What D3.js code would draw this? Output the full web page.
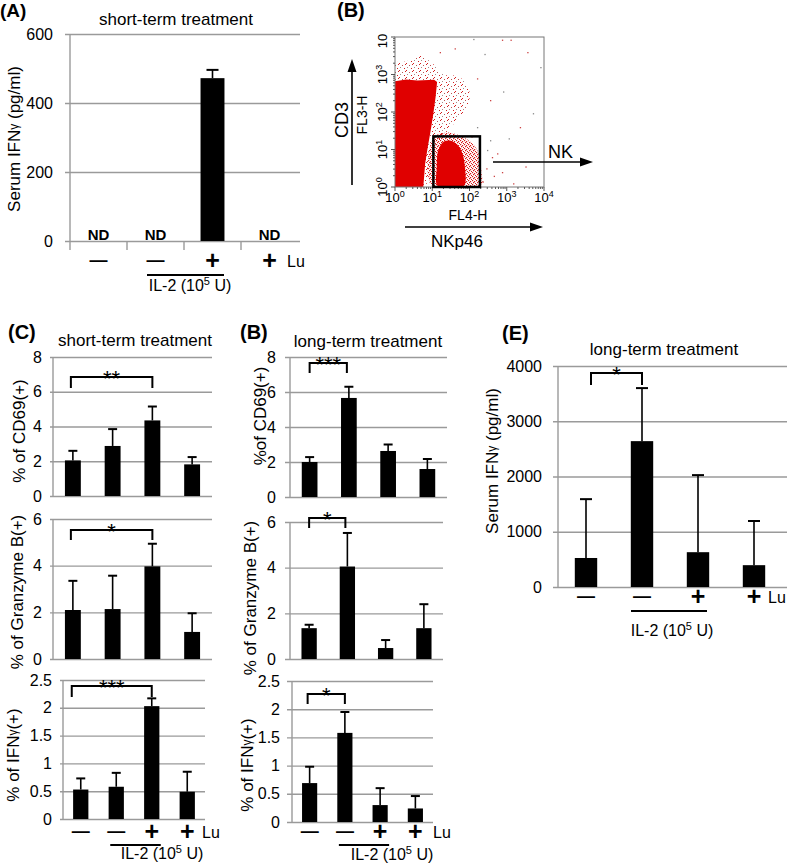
<!DOCTYPE html>
<html><head><meta charset="utf-8">
<script src="https://cdn.jsdelivr.net/npm/d3@7"></script>
<style>body{margin:0;background:#fff} svg{display:block}</style>
</head><body><svg id="c" width="787" height="865"></svg>
<script>
// ---------------- DATA ----------------
const groupSigns = ["—","—","+","+"];
const serumShortVals = [0,0,472,0];
const serumShortErr = [0,0,24,0];
const serumShortND = [true,true,false,true];
const serumShortTicks = [0,200,400,600];

const cd69ShortVals = [2.05,2.88,4.35,1.82];
const cd69ShortErr = [0.55,0.97,0.80,0.42];
const granzShortVals = [2.10,2.14,3.97,1.16];
const granzShortErr = [1.25,1.43,0.97,0.80];
const ifnShortVals = [0.53,0.58,2.03,0.49];
const ifnShortErr = [0.20,0.25,0.14,0.36];

const cd69LongVals = [2.00,5.66,2.63,1.60];
const cd69LongErr = [0.28,0.64,0.37,0.57];
const granzLongVals = [1.35,4.05,0.48,1.35];
const granzLongErr = [0.15,1.47,0.35,1.05];
const ifnLongVals = [0.69,1.58,0.30,0.24];
const ifnLongErr = [0.29,0.37,0.30,0.22];

const serumLongVals = [525,2640,630,395];
const serumLongErr = [1065,960,1395,800];

const cd69Ticks = [0,2,4,6,8];
const granzTicks = [0,2,4,6];
const ifnTicks = [0,0.5,1,1.5,2,2.5];
const serumLongTicks = [0,1000,2000,3000,4000];

// flow cytometry (log10 units: [FL4-H, FL3-H])
const flowDecades = [0,1,2,3,4];
const flowXTickLabels = ["0","1","2","3","4"];
const flowYTickLabels = ["0","1","2","3",""];
const denseMain = [[0,0],[0.76,0],[0.81,0.63],[0.88,1.07],[0.96,1.52],[1.03,1.96],[1.09,2.4],[1.13,2.8],[1.05,2.86],[0.6,2.84],[0.3,2.87],[0,2.82]];
const haloMain = [[0,2.7],[0,3.3],[0.3,3.35],[0.7,3.5],[1.0,3.3],[1.3,3.0],[1.7,2.95],[1.95,2.7],[2.0,2.35],[1.8,1.95],[1.5,1.6],[1.25,1.3],[1.05,0.9],[0.9,0.3],[0.8,0]];
const denseNK = [[1.15,0.02],[1.12,0.5],[1.17,1.0],[1.33,1.22],[1.58,1.2],[1.78,0.97],[1.88,0.5],[1.84,0.02]];
const haloNK = [[1.0,0],[1.02,1.3],[1.35,1.45],[1.85,1.32],[2.2,1.0],[2.32,0.4],[2.3,0]];
const flowDots = [[2.1,3.95],[2.87,3.93],[3.1,3.93],[3.9,3.2],[2.55,2.32],[3.35,1.6],[3.7,1.97],[2.87,0.4],[3.17,0.1],[2.47,0.99],[2.6,0.8],[2.74,0.9],[2.4,3.55],[1.6,3.7],[2.2,2.9],[2.9,2.55],[3.55,3.6],[2.45,0.5],[2.55,1.25],[3.5,0.55],[2.35,0.15],[2.2,1.6],[2.05,1.35],[1.2,3.6],[3.05,1.3],[2.65,0.3]];
const nkGate = {x0:1.03,x1:2.28,y0:0,y1:1.35};

// ---------------- DRAW ----------------
const FONT = '"Liberation Sans", Arial, Helvetica, sans-serif';
const GRID = "#9a9a9a";
const svg = d3.select("#c").attr("font-family", FONT);
svg.append("rect").attr("width",787).attr("height",865).attr("fill","#fff");

function addText(x,y,str,opt={}){
  return svg.append("text").attr("x",x).attr("y",y).text(str)
    .attr("font-size",opt.size||16).attr("text-anchor",opt.anchor||"start")
    .attr("font-weight",opt.weight||"normal").attr("fill","#000");
}
function il2Label(cx,y){
  const t = svg.append("text").attr("x",cx).attr("y",y).attr("text-anchor","middle").attr("font-size",16);
  t.append("tspan").text("IL-2 (10");
  t.append("tspan").attr("font-size",11).attr("dy",-6).text("5");
  t.append("tspan").attr("dy",6).text(" U)");
}
function rotLabel(cx,cy,parts,size){
  const t = svg.append("text").attr("transform",`translate(${cx},${cy}) rotate(-90)`)
    .attr("text-anchor","middle").attr("dominant-baseline","central").attr("font-size",size||17);
  parts.forEach(p=>{ const s=t.append("tspan").text(p[0]); if(p[1]) s.attr("font-size",p[1]); });
}
function drawSigns(cx,o){
  const sy=o.y;
  svg.append("g").selectAll("text").data(groupSigns.map((s,i)=>({s,i}))).join("text")
    .attr("x",d=>cx(d.i)).attr("text-anchor","middle")
    .attr("y",d=>d.s==="+"? sy+8 : sy+5)
    .attr("font-size",d=>d.s==="+"?25:18).attr("font-weight","bold").text(d=>d.s);
  addText(o.luX,sy+6,"Lu",{size:16});
  svg.append("line").attr("x1",cx(1)+o.l1).attr("x2",cx(2)+o.l2).attr("y1",o.lineY).attr("y2",o.lineY)
    .attr("stroke","#000").attr("stroke-width",2.2);
}

function barPanel(o){
  const n=o.vals.length;
  const x=d3.scaleBand().domain(d3.range(n)).range([o.left,o.right]).paddingInner(o.pad).paddingOuter(o.pad/2);
  const y=d3.scaleLinear().domain([0,o.max]).range([o.bottom,o.top]);
  const g=svg.append("g");
  const gr=(o.gridRight||o.right);
  const ax=d3.axisLeft(y).tickValues(o.ticks).tickSizeInner(-(gr-o.left)).tickSizeOuter(0)
    .tickPadding(o.gap).tickFormat(d=>String(d));
  const axg=g.append("g").attr("transform",`translate(${o.left},0)`).call(ax)
    .attr("font-size",16).attr("font-family",FONT);
  axg.select(".domain").remove();
  axg.selectAll(".tick line").attr("x1",-o.tickLen).attr("stroke",GRID).attr("stroke-width",1.4);
  axg.selectAll(".tick text").attr("fill","#000");
  g.append("line").attr("x1",o.left).attr("x2",o.left).attr("y1",y(0)).attr("y2",y(o.max))
    .attr("stroke",GRID).attr("stroke-width",1.4);
  const data=o.vals.map((v,i)=>({v,i,e:o.errs[i],nd:o.nd?o.nd[i]:false}));
  const shown=data.filter(d=>!d.nd);
  g.selectAll("rect.bar").data(shown).join("rect").attr("class","bar")
    .attr("x",d=>x(d.i)).attr("width",x.bandwidth()).attr("y",d=>y(d.v)).attr("height",d=>y(0)-y(d.v)).attr("fill","#000");
  const cx=i=>x(i)+x.bandwidth()/2;
  g.selectAll("line.err").data(shown).join("line").attr("class","err")
    .attr("x1",d=>cx(d.i)).attr("x2",d=>cx(d.i)).attr("y1",d=>y(d.v)).attr("y2",d=>y(d.v+d.e))
    .attr("stroke","#000").attr("stroke-width",1.6);
  g.selectAll("line.cap").data(shown).join("line").attr("class","cap")
    .attr("x1",d=>cx(d.i)-o.cap/2).attr("x2",d=>cx(d.i)+o.cap/2).attr("y1",d=>y(d.v+d.e)).attr("y2",d=>y(d.v+d.e))
    .attr("stroke","#000").attr("stroke-width",2);
  if(o.nd){
    g.selectAll("text.nd").data(data.filter(d=>d.nd)).join("text").attr("class","nd")
      .attr("x",d=>cx(d.i)).attr("y",y(0)-1).attr("text-anchor","middle").attr("font-size",15).attr("font-weight","bold").text("ND");
  }
  if(o.sig){
    const s=o.sig, x1=cx(s.from)+(s.dx1||0), x2=cx(s.to)+(s.dx2||0), yt=y(s.h);
    g.append("path").attr("d",`M${x1},${yt+s.leg}V${yt}H${x2}V${yt+s.leg}`).attr("fill","none").attr("stroke","#000").attr("stroke-width",2);
    g.append("text").attr("x",(x1+x2)/2).attr("y",yt+9).attr("text-anchor","middle").attr("font-size",22).text(s.label);
  }
  if(o.signs) drawSigns(cx,o.signs);
  if(o.catTicks){
    const bounds=[o.left].concat(d3.range(1,n).map(i=>x(i)-x.step()*x.paddingInner()/2));
    g.selectAll("line.ct").data(bounds).join("line").attr("class","ct").attr("x1",d=>d).attr("x2",d=>d)
      .attr("y1",y(0)).attr("y2",y(0)+9).attr("stroke",GRID).attr("stroke-width",1.4);
  }
  return {x,y,cx};
}

// ---- Panel A ----
addText(0,17,"(A)",{size:19,weight:"bold"});
addText(176,25,"short-term treatment",{size:17,anchor:"middle"});
barPanel({left:70,right:298,gridRight:300,bottom:241,top:34,max:600,ticks:serumShortTicks,vals:serumShortVals,errs:serumShortErr,nd:serumShortND,
  pad:0.58,cap:12,gap:17,tickLen:5,catTicks:true,signs:{y:261,luX:287,lineY:275,l1:-8.5,l2:11.5}});
rotLabel(14,139,[["Serum IFN"],["γ",12],[" (pg/ml)"]]);
il2Label(190,291);

// ---- Panel B (flow) ----
addText(337,17,"(B)",{size:20,weight:"bold"});
const fx=d3.scaleLinear().domain([0,4]).range([395,544]);
const fy=d3.scaleLinear().domain([0,4]).range([187,37]);
const defs=svg.append("defs");
const p1=defs.append("pattern").attr("id","sparse").attr("width",7).attr("height",7).attr("patternUnits","userSpaceOnUse");
[[0,0,"#d42020"],[3,2,"#b55"],[5,5,"#d42020"],[1,4,"#a88"],[6,1,"#d42020"]].forEach(d=>p1.append("rect").attr("x",d[0]).attr("y",d[1]).attr("width",1).attr("height",1).attr("fill",d[2]));
const p2=defs.append("pattern").attr("id","medium").attr("width",4).attr("height",4).attr("patternUnits","userSpaceOnUse");
[[0,0],[2,1],[1,2],[3,3]].forEach(d=>p2.append("rect").attr("x",d[0]).attr("y",d[1]).attr("width",1.2).attr("height",1.2).attr("fill","#d81818"));
defs.append("clipPath").attr("id","fclip").append("rect").attr("x",fx(0)).attr("y",fy(4)).attr("width",fx(4)-fx(0)).attr("height",fy(0)-fy(4));
const fg=svg.append("g").attr("clip-path","url(#fclip)");
const poly=d3.line().x(d=>fx(d[0])).y(d=>fy(d[1])).curve(d3.curveCatmullRomClosed);
fg.append("path").attr("d",poly(haloMain)).attr("fill","url(#sparse)");
fg.append("path").attr("d",poly(haloNK)).attr("fill","url(#medium)");
fg.append("path").attr("d",d3.line().x(d=>fx(d[0])).y(d=>fy(d[1])).curve(d3.curveLinearClosed)(denseMain)).attr("fill","#e00000");
fg.append("path").attr("d",poly(denseNK)).attr("fill","#e00000");
fg.selectAll("rect.dot").data(flowDots).join("rect").attr("class","dot")
  .attr("x",d=>fx(d[0])).attr("y",d=>fy(d[1])).attr("width",1.3).attr("height",1.3).attr("fill",(d,i)=>i%3?"#c44":"#888");
svg.append("rect").attr("x",fx(0)).attr("y",fy(4)).attr("width",fx(4)-fx(0)).attr("height",fy(0)-fy(4))
  .attr("fill","none").attr("stroke","#777").attr("stroke-width",1);
const minor=[];
flowDecades.slice(0,4).forEach(dd=>{for(let k=2;k<=9;k++) minor.push(dd+Math.log10(k));});
svg.selectAll("line.mx").data(flowDecades.concat(minor)).join("line").attr("class","mx")
  .attr("x1",d=>fx(d)).attr("x2",d=>fx(d)).attr("y1",fy(0)).attr("y2",d=>fy(0)+(Number.isInteger(d)?4:2)).attr("stroke","#555");
svg.selectAll("line.my").data(flowDecades.concat(minor)).join("line").attr("class","my")
  .attr("y1",d=>fy(d)).attr("y2",d=>fy(d)).attr("x1",fx(0)).attr("x2",d=>fx(0)-(Number.isInteger(d)?4:2)).attr("stroke","#555");
flowDecades.forEach((d,i)=>{
  const t=svg.append("text").attr("x",fx(d)).attr("y",202).attr("text-anchor","middle").attr("font-size",13);
  t.append("tspan").text("10"); t.append("tspan").attr("font-size",9).attr("dy",-5).text(flowXTickLabels[i]);
  const r=svg.append("text").attr("transform",`translate(387,${fy(d)+(i===4?4:0)}) rotate(-90)`).attr("text-anchor","middle").attr("font-size",13);
  r.append("tspan").text("10"); if(flowYTickLabels[i]) r.append("tspan").attr("font-size",9).attr("dy",-5).text(flowYTickLabels[i]);
});
svg.append("rect").attr("x",fx(nkGate.x0)).attr("y",fy(nkGate.y1)).attr("width",fx(nkGate.x1)-fx(nkGate.x0)).attr("height",fy(nkGate.y0)-fy(nkGate.y1))
  .attr("fill","none").attr("stroke","#000").attr("stroke-width",2.5);
function arrow(x1,y1,x2,y2){
  svg.append("line").attr("x1",x1).attr("y1",y1).attr("x2",x2).attr("y2",y2).attr("stroke","#000").attr("stroke-width",1.6);
  const a=Math.atan2(y2-y1,x2-x1), L=10, W=4.5;
  const p=[[x2+3*Math.cos(a),y2+3*Math.sin(a)],[x2-L*Math.cos(a)+W*Math.sin(a),y2-L*Math.sin(a)-W*Math.cos(a)],[x2-L*Math.cos(a)-W*Math.sin(a),y2-L*Math.sin(a)+W*Math.cos(a)]];
  svg.append("path").attr("d","M"+p.map(q=>q.join(",")).join("L")+"Z").attr("fill","#000");
}
arrow(352,185,352,62);
arrow(405,227,540,227);
arrow(493,162,590,162);
addText(548,158,"NK",{size:18});
addText(468,220,"FL4-H",{size:14,anchor:"middle"});
addText(457,247,"NKp46",{size:17,anchor:"middle"});
rotLabel(342,120,[["CD3"]],18);
rotLabel(362,115,[["FL3-H"]],14);

// ---- Panel C ----
addText(8,339,"(C)",{size:20,weight:"bold"});
addText(135,346,"short-term treatment",{size:17,anchor:"middle"});
barPanel({left:53,right:212,bottom:496,top:357,max:8,ticks:cd69Ticks,vals:cd69ShortVals,errs:cd69ShortErr,pad:0.6,cap:9,gap:11,tickLen:3,
  sig:{from:0,to:2,h:6.85,leg:11,label:"**",dx1:-2}});
barPanel({left:53,right:212,bottom:659,top:519,max:6,ticks:granzTicks,vals:granzShortVals,errs:granzShortErr,pad:0.6,cap:9,gap:11,tickLen:3,
  sig:{from:0,to:2,h:5.53,leg:10,label:"*",dx1:-2}});
barPanel({left:63,right:205,bottom:819,top:680,max:2.5,ticks:ifnTicks,vals:ifnShortVals,errs:ifnShortErr,pad:0.57,cap:9,gap:11,tickLen:3,
  sig:{from:0,to:2,h:2.39,leg:11,label:"***",dx1:-9},signs:{y:832,luX:202,lineY:845,l1:-6,l2:9}});
rotLabel(19,431,[["% of CD69(+)"]]);
rotLabel(17,592,[["% of Granzyme B(+)"]]);
rotLabel(13,755,[["% of IFN"],["γ",12],["(+)"]]);
il2Label(162,859);

// ---- Panel B (long-term) ----
addText(240,339,"(B)",{size:20,weight:"bold"});
addText(368,347,"long-term treatment",{size:17,anchor:"middle"});
barPanel({left:290,right:447,bottom:497,top:357,max:8,ticks:cd69Ticks,vals:cd69LongVals,errs:cd69LongErr,pad:0.6,cap:9,gap:14,tickLen:5,
  sig:{from:0,to:1,h:7.66,leg:10,label:"***",dx2:-2}});
barPanel({left:290,right:443,bottom:659,top:522,max:6,ticks:granzTicks,vals:granzLongVals,errs:granzLongErr,pad:0.6,cap:9,gap:14,tickLen:5,
  sig:{from:0,to:1,h:6.18,leg:10,label:"*",dx2:-2}});
barPanel({left:292,right:433,bottom:822,top:681,max:2.5,ticks:ifnTicks,vals:ifnLongVals,errs:ifnLongErr,pad:0.57,cap:9,gap:12,tickLen:5,
  sig:{from:0,to:1,h:2.27,leg:10,label:"*",dx1:-2},signs:{y:832,luX:433,lineY:845,l1:-6,l2:9}});
rotLabel(260,416,[["%of CD69(+)"]]);
rotLabel(250,598,[["% of Granzyme B(+)"]]);
rotLabel(247,765,[["% of IFN"],["γ",12],["(+)"]]);
il2Label(392,860);

// ---- Panel E ----
addText(502,340,"(E)",{size:20,weight:"bold"});
addText(664,355,"long-term treatment",{size:17,anchor:"middle"});
barPanel({left:558,right:782,gridRight:787,bottom:587,top:366,max:4000,ticks:serumLongTicks,vals:serumLongVals,errs:serumLongErr,pad:0.6,cap:12,gap:16,tickLen:5,
  sig:{from:0,to:1,h:3873,leg:12,label:"*",dx1:5},signs:{y:597,luX:768,lineY:611,l1:-11,l2:9}});
rotLabel(492,461,[["Serum IFN"],["γ",12],[" (pg/ml)"]]);
il2Label(672,636);
</script></body></html>
